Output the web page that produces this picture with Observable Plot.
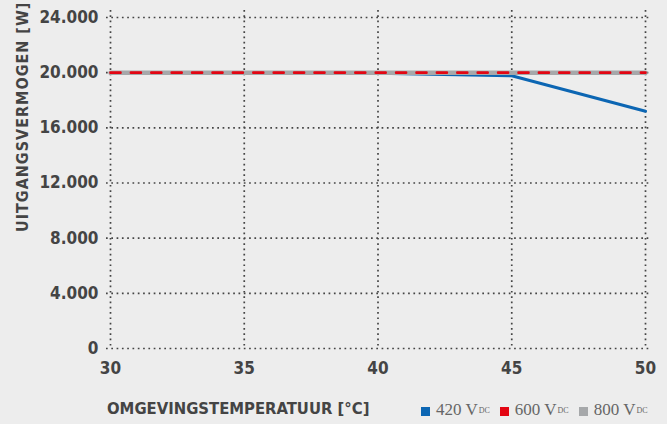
<!DOCTYPE html>
<html>
<head>
<meta charset="utf-8">
<script src="https://cdn.jsdelivr.net/npm/d3@7"></script>
<script src="https://cdn.jsdelivr.net/npm/@observablehq/plot@0.6"></script>
<style>
  html, body { margin:0; padding:0; background:#ededed; }
  #wrap { position:relative; width:667px; height:424px; overflow:hidden; background:#ededed; }
  .cond { font-family:"DejaVu Sans Condensed","DejaVu Sans",sans-serif; font-stretch:condensed; font-weight:bold; color:#444; }
  #ytitle { position:absolute; left:14px; top:0px; transform-origin:0 0; transform:translate(0px, 232px) rotate(-90deg); font-size:16px; line-height:18px; white-space:nowrap; letter-spacing:1px; }
  #xtitle { position:absolute; left:107px; top:399px; font-size:16.5px; white-space:nowrap; }
  #legend { position:absolute; left:421px; top:400px; font-family:"Liberation Serif","DejaVu Serif",serif; font-size:17px; color:#666; white-space:nowrap; display:flex; align-items:center; }
  .item { display:flex; align-items:center; margin-right:10px; }
  .sw { width:9px; height:9px; display:inline-block; margin-right:6px; margin-top:2px; }
  sub { font-size:8px; vertical-align:-4px; margin-left:1px; }
</style>
</head>
<body>
<div id="wrap">
  <div id="chart"></div>
  <div id="ytitle" class="cond"></div>
  <div id="xtitle" class="cond"></div>
  <div id="legend"></div>
</div>
<script>
// ---- data ----
const xTitle = "OMGEVINGSTEMPERATUUR [°C]";
const yTitle = "UITGANGSVERMOGEN [W]";
const xTicks = [30, 35, 40, 45, 50];
const yTicks = [0, 4000, 8000, 12000, 16000, 20000, 24000];
const yTickLabels = ["0", "4.000", "8.000", "12.000", "16.000", "20.000", "24.000"];
const seriesNames = ["420 V", "600 V", "800 V"];
const seriesSub = "DC";
const seriesColors = ["#0c66b3", "#e30613", "#a6a8aa"];
const temps420 = [30, 40, 45, 50];
const power420 = [20000, 19960, 19780, 17200];
const temps600 = [30, 50];
const power600 = [20000, 20000];
const temps800 = [30, 50];
const power800 = [20000, 20000];

const toRows = (xs, ys) => xs.map((x, i) => ({x, y: ys[i]}));
const d420 = toRows(temps420, power420);
const d600 = toRows(temps600, power600);
const d800 = toRows(temps800, power800);

const grid = {stroke:"#444", strokeOpacity:1, strokeWidth:1.7, strokeDasharray:"1.7,3.6"};

const chart = Plot.plot({
  width: 667,
  height: 424,
  marginLeft: 110,
  marginRight: 22,
  marginTop: 17,
  marginBottom: 76,
  style: {background:"transparent", fontFamily:'"DejaVu Sans Condensed","DejaVu Sans",sans-serif', fontSize:"17px", fontWeight:"bold", color:"#444", overflow:"visible"},
  x: {domain:[30, 50], ticks:xTicks, tickSize:0, tickPadding:13, label:null, tickFormat: d => String(d)},
  y: {domain:[0, 24000], ticks:yTicks, tickSize:0, tickPadding:12, label:null,
      tickFormat: d => yTickLabels[yTicks.indexOf(d)]},
  marks: [
    Plot.ruleY(yTicks, {...grid, insetLeft:-4, insetRight:-5}),
    Plot.ruleX(xTicks, {...grid, insetTop:-7}),
    Plot.line(d420, {x:"x", y:"y", stroke:seriesColors[0], strokeWidth:3}),
    Plot.line(d800, {x:"x", y:"y", stroke:seriesColors[2], strokeWidth:4.5}),
    Plot.line(d600, {x:"x", y:"y", stroke:seriesColors[1], strokeWidth:2.6, strokeDasharray:"10,10.4"}),
    Plot.axisX({ticks:xTicks, tickSize:0, tickPadding:13, fill:"#444", fontSize:17, fontWeight:"bold"}),
    Plot.axisY({ticks:yTicks, tickSize:0, tickPadding:12, fill:"#444", fontSize:17, tickFormat: d => yTickLabels[yTicks.indexOf(d)]})
  ]
});
document.getElementById("chart").appendChild(chart);
document.getElementById("xtitle").textContent = xTitle;
document.getElementById("ytitle").textContent = yTitle;
const leg = document.getElementById("legend");
seriesNames.forEach((n, i) => {
  const it = document.createElement("span");
  it.className = "item";
  it.innerHTML = `<span class="sw" style="background:${seriesColors[i]}"></span>${n}<sub>${seriesSub}</sub>`;
  leg.appendChild(it);
});
</script>
</body>
</html>
